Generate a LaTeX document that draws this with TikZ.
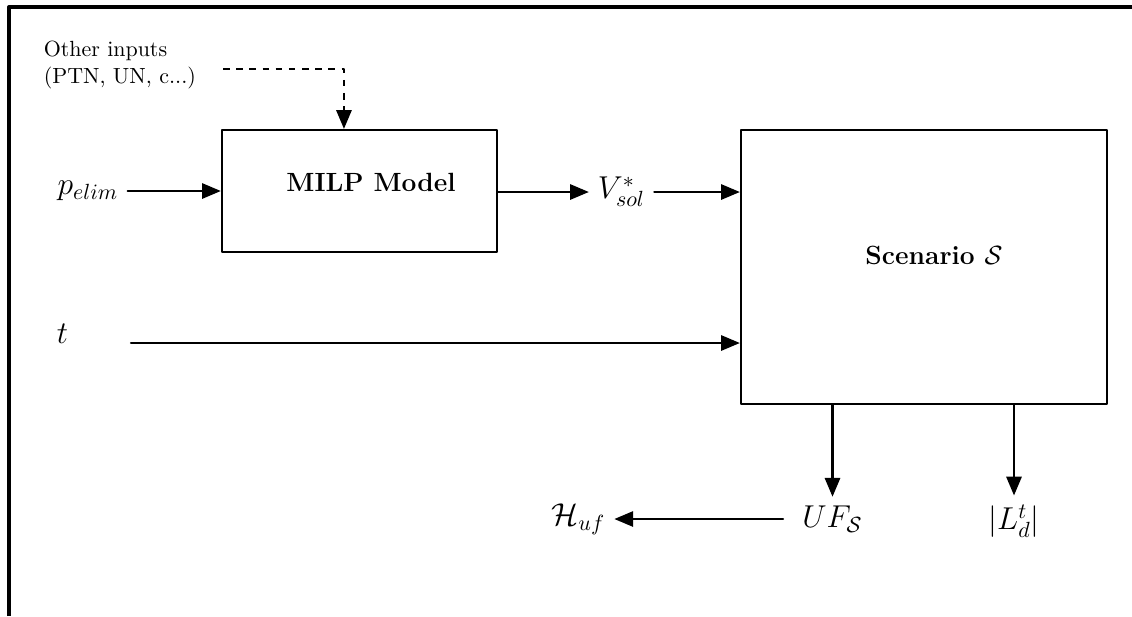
\documentclass[tikz,border=0pt]{standalone}
\usepackage{pgf,tikz}
\usetikzlibrary{arrows}
\usetikzlibrary{calc}

\tikzset{
  blockbox/.style={draw,line width=1.2pt,rectangle,inner sep=0pt},
  sig/.style={inner sep=4pt,font=\Large},
  wire/.style={->,line width=0.95pt}
}

\begin{document}
\begin{tikzpicture}[line cap=round,line join=round,>=triangle 45,x=0.016cm,y=-0.016cm]
\useasboundingbox (0,0) rectangle (1132,616);
\draw [line width=1.8pt,line cap=butt] (9,616)--(9,7)--(1132,7);
% blocks
\node [blockbox,minimum width=4.4cm,minimum height=1.95cm] (milp) at (359.5,191) {};
\node [font=\large\bfseries] (milptxt) at (371,182) {MILP Model};
\node [blockbox,minimum width=5.856cm,minimum height=4.384cm] (scen) at (924,267) {};
\node [font=\large\bfseries] (scentxt) at (934,255) {Scenario $\mathcal{S}$};
% inputs
\node [anchor=west,align=left] (other) at (36,65) {Other inputs\\(PTN, UN, c...)};
\coordinate (oin) at (223,69);
\draw [wire,dashed,line cap=butt] (oin) -| ($(milp.north west)!0.444!(milp.north east)$);
\node [sig] (pelim) at (88,191) {$p_{elim}$};
\draw [wire] (pelim) -- (milp);
\node [sig] (vsol) at (621.5,192) {$V^*_{sol}$};
\draw [wire] (milp.east |- vsol) -- (vsol);
\draw [wire] (vsol) -- (vsol -| scen.west);
\node [sig] (t) at (62.5,334) {$t$};
\coordinate (tin) at (131,343);
\draw [wire] (tin) -- (tin -| scen.west);
% outputs
\node [sig] (uf) at (832.5,519) {$UF_{\mathcal{S}}$};
\node [sig] (ld) at (1014,521) {$|L^t_d|$};
\node [sig] (huf) at (578.5,519) {$\mathcal{H}_{uf}$};
\draw [wire] (scen.south -| uf) -- (uf);
\draw [wire] (scen.south -| ld) -- (ld);
\draw [wire] ([xshift=-0.16cm]uf.west) -- (huf);
\end{tikzpicture}
\end{document}
